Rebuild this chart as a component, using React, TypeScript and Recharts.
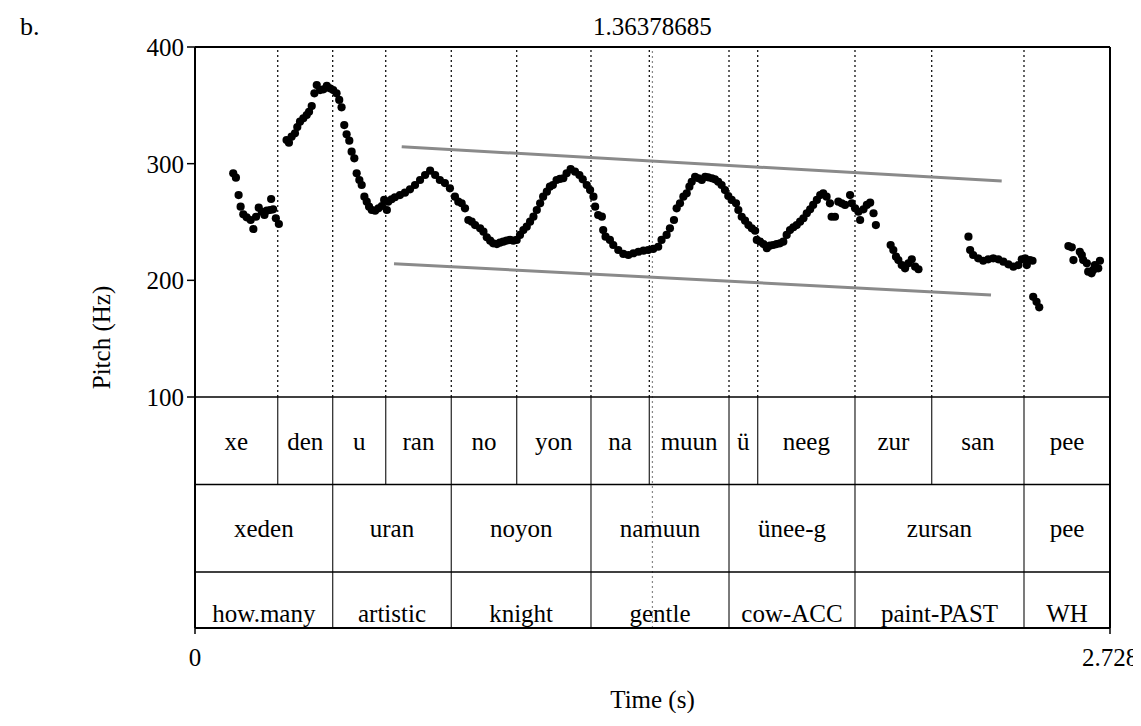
import React from 'react';
import { ScatterChart, Scatter, XAxis, YAxis, ReferenceLine, ReferenceArea } from 'recharts';

// F0 track (time in s, pitch in Hz)
const pitchTime = [
  0.114, 0.122, 0.130, 0.136, 0.144, 0.154, 0.166, 0.174, 0.182, 0.190, 0.199, 0.207, 0.214, 0.224, 0.227, 0.233, 0.241, 0.250,
  0.273, 0.280, 0.288, 0.298, 0.305, 0.313, 0.323, 0.333, 0.340, 0.348, 0.356, 0.363, 0.373, 0.383, 0.393, 0.402, 0.412, 0.422,
  0.430, 0.437, 0.445, 0.452, 0.460, 0.467, 0.475, 0.482, 0.490, 0.497, 0.505, 0.512, 0.519, 0.527, 0.537, 0.547, 0.557, 0.564,
  0.572, 0.576, 0.586, 0.596, 0.611, 0.626, 0.641, 0.656, 0.671, 0.686, 0.701, 0.716, 0.730, 0.745, 0.760, 0.775, 0.785, 0.795,
  0.805, 0.815, 0.825, 0.835, 0.850, 0.860, 0.870, 0.880, 0.889, 0.900, 0.909, 0.919, 0.929, 0.939, 0.949, 0.959, 0.969, 0.979,
  0.989, 0.999, 1.009, 1.019, 1.029, 1.038, 1.049, 1.058, 1.067, 1.078, 1.088, 1.098, 1.108, 1.120, 1.133, 1.146, 1.156, 1.168,
  1.178, 1.188, 1.193, 1.202, 1.213, 1.217, 1.224, 1.237, 1.247, 1.262, 1.277, 1.292, 1.307, 1.322, 1.337, 1.351, 1.366, 1.381,
  1.391, 1.406, 1.416, 1.428, 1.436, 1.446, 1.456, 1.466, 1.474, 1.481, 1.491, 1.501, 1.511, 1.521, 1.530, 1.541, 1.550, 1.560,
  1.570, 1.580, 1.590, 1.600, 1.613, 1.620, 1.630, 1.640, 1.650, 1.660, 1.670, 1.675, 1.685, 1.695, 1.705, 1.714, 1.724, 1.734,
  1.744, 1.754, 1.764, 1.774, 1.784, 1.794, 1.804, 1.814, 1.824, 1.834, 1.843, 1.854, 1.864, 1.873, 1.883, 1.893, 1.898, 1.908,
  1.918, 1.928, 1.938, 1.953, 1.958, 1.968, 1.978, 1.983, 1.993, 2.003, 2.013, 2.023, 2.030,
  2.074, 2.082, 2.090, 2.097, 2.107, 2.117, 2.127, 2.137, 2.147, 2.157,
  2.306, 2.311, 2.320, 2.335, 2.350, 2.365, 2.380, 2.395, 2.410, 2.425, 2.440, 2.455, 2.465, 2.475, 2.480, 2.489, 2.497,
  2.499, 2.509, 2.517,
  2.604, 2.614, 2.619, 2.638, 2.644, 2.648, 2.659, 2.663, 2.673, 2.678, 2.683, 2.693, 2.698,
];

const pitchHz = [
  291.7, 288.0, 273.1, 263.1, 256.6, 254.0, 251.7, 244.0, 254.5, 262.3, 258.8, 256.0, 259.7, 260.3, 269.7, 260.9, 253.2, 248.3,
  320.3, 318.0, 323.1, 326.0, 331.4, 336.0, 338.9, 341.7, 344.5, 349.4, 360.3, 367.4, 363.1, 363.7, 366.6, 364.6, 363.1, 360.3,
  354.6, 348.3, 333.1, 325.2, 319.7, 310.3, 304.6, 291.7, 286.0, 281.7, 271.7, 267.4, 263.1, 260.3, 259.7, 261.7, 263.7, 268.9,
  260.3, 267.4, 269.5, 271.2, 273.1, 275.1, 278.0, 281.7, 286.0, 290.3, 294.0, 290.3, 286.0, 283.4, 278.9, 271.7, 267.4, 266.0,
  261.7, 251.7, 250.3, 247.4, 244.6, 241.7, 236.9, 234.0, 231.7, 231.1, 232.3, 233.1, 234.0, 234.6, 234.0, 234.6, 238.9, 243.1,
  246.0, 250.3, 254.6, 260.3, 266.0, 271.7, 276.0, 280.3, 281.7, 286.0, 286.9, 287.5, 291.7, 295.4, 293.1, 290.3, 286.6, 281.7,
  277.4, 271.7, 263.1, 256.0, 254.6, 243.1, 237.4, 234.6, 230.3, 226.0, 222.6, 221.7, 223.2, 224.5, 225.4, 226.0, 226.9, 228.8,
  234.6, 238.9, 244.6, 251.7, 261.7, 266.0, 271.7, 274.6, 280.3, 284.5, 288.8, 287.5, 286.0, 288.8, 288.3, 287.5, 286.6, 284.5,
  281.7, 277.4, 272.3, 268.9, 266.0, 260.3, 254.5, 251.1, 247.4, 244.6, 242.5, 234.6, 233.1, 231.1, 227.5, 229.7, 230.3, 231.1,
  231.7, 233.1, 238.9, 243.1, 245.5, 247.4, 250.3, 253.2, 257.5, 260.9, 264.6, 268.9, 273.1, 274.6, 271.7, 266.0, 254.5, 254.5,
  267.4, 266.0, 264.6, 273.1, 266.0, 261.7, 258.8, 251.7, 260.9, 264.6, 266.6, 257.5, 247.4,
  230.3, 226.0, 220.3, 217.4, 213.1, 210.3, 214.6, 218.0, 211.7, 209.5,
  237.4, 226.0, 221.7, 218.9, 216.8, 218.0, 218.9, 218.0, 216.0, 213.7, 211.7, 213.1, 218.0, 218.9, 213.1, 217.4, 216.8,
  185.9, 181.6, 176.9,
  229.4, 228.3, 217.4, 224.5, 221.7, 217.4, 214.6, 207.4, 206.0, 208.9, 213.1, 210.3, 216.8,
];

// Syllable tier
const syllableBounds = [0, 0.2466, 0.4105, 0.5686, 0.7641, 0.9591, 1.1806, 1.3545, 1.5921, 1.6776, 1.9677, 2.1964, 2.4716, 2.728];
const syllables = ['xe', 'den', 'u', 'ran', 'no', 'yon', 'na', 'muun', 'ü', 'neeg', 'zur', 'san', 'pee'];

// Word and gloss tiers share their boundaries
const wordBounds = [0, 0.4105, 0.7641, 1.1806, 1.5921, 1.9677, 2.4716, 2.728];
const words = ['xeden', 'uran', 'noyon', 'namuun', 'ünee-g', 'zursan', 'pee'];
const glosses = ['how.many', 'artistic', 'knight', 'gentle', 'cow-ACC', 'paint-PAST', 'WH'];

const cursorTime = 1.36378685;

// Declination lines (time, Hz)
const topline = [
  { x: 0.6163, y: 314.5 },
  { x: 2.4051, y: 285.1 },
];
const baseline = [
  { x: 0.5933, y: 214.3 },
  { x: 2.3732, y: 187.4 },
];

const hzTicks = [100, 200, 300, 400];
const timeTicks = [0, 2.728];

const points = pitchTime.map((t, i) => ({ t, hz: pitchHz[i] }));

// The text-grid tiers hang below the pitch panel on the same vertical scale:
// each tier row is 75 units tall, stacked downward from the 100 Hz floor.
const FLOOR = 100;
const ROW = 75;
const rowTop = (k: number) => FLOOR - ROW * k; // k = 0,1,2
const rowBottom = (k: number) => FLOOR - ROW * (k + 1);
const Y_MIN = -98;

const FONT = "'Liberation Serif', 'Times New Roman', serif";
const FS = 25;

const Dot = (props: any) => <circle cx={props.cx} cy={props.cy} r={4.1} fill="#000" />;

export default function App() {
  const interiorSyl = syllableBounds.slice(1, -1);
  const interiorWord = wordBounds.slice(1, -1);
  const labelStyle = { position: 'center' as const, fontSize: FS, fill: '#000' };
  return (
    <div className="pitch-figure" style={{ position: 'relative', width: 1133, height: 705, fontFamily: FONT }}>
      <style>{`.pitch-figure, .pitch-figure text, .pitch-figure tspan { font-family: ${FONT} !important; }`}</style>
      <span
        style={{
          position: 'absolute',
          left: 12,
          top: 6,
          fontSize: 26,
          lineHeight: '26px',
          color: '#000',
        }}
      >
        b.
      </span>
      <ScatterChart
        width={1133}
        height={705}
        margin={{ top: 39, right: 31, bottom: 0, left: 0 }}
      >
        <XAxis
          type="number"
          dataKey="t"
          domain={[0, 2.728]}
          ticks={timeTicks}
          interval={0}
          tickFormatter={(v: number) => String(v)}
          tickSize={6}
          tickMargin={14}
          height={85}
          axisLine={{ stroke: '#000', strokeWidth: 2 }}
          tickLine={{ stroke: '#000', strokeWidth: 1.5 }}
          tick={{ fontSize: FS, fill: '#000' }}
          label={{ value: 'Time (s)', position: 'insideBottom', offset: 5, fontSize: FS, fill: '#000' }}
        />
        <YAxis
          type="number"
          dataKey="hz"
          domain={[Y_MIN, 400]}
          ticks={hzTicks}
          interval={0}
          width={187}
          tickSize={8}
          tickMargin={3}
          axisLine={{ stroke: '#000', strokeWidth: 2 }}
          tickLine={{ stroke: '#000', strokeWidth: 1.5 }}
          tick={{ fontSize: FS, fill: '#000' }}
          label={{ value: 'Pitch (Hz)', angle: -90, position: 'center', fontSize: FS, fill: '#000' }}
        />

        {/* boundaries projected into the pitch panel */}
        {interiorSyl.map((b) => (
          <ReferenceLine
            key={'pd' + b}
            segment={[{ x: b, y: FLOOR }, { x: b, y: 400 }]}
            stroke="#111"
            strokeWidth={1.3}
            strokeDasharray="2 3"
          />
        ))}

        {/* cursor */}
        <ReferenceLine
          x={cursorTime}
          stroke="#888"
          strokeWidth={1.2}
          strokeDasharray="2 3"
          label={{ value: '1.36378685', position: 'top', offset: 12, fontSize: FS, fill: '#000' }}
        />

        {/* syllable tier boundaries */}
        {interiorSyl.map((b) => (
          <ReferenceLine
            key={'t1' + b}
            segment={[{ x: b, y: rowBottom(0) }, { x: b, y: rowTop(0) }]}
            stroke="#333"
            strokeWidth={1.3}
          />
        ))}
        {/* word and gloss tier boundaries */}
        {interiorWord.map((b) => (
          <ReferenceLine
            key={'t23' + b}
            segment={[{ x: b, y: Y_MIN }, { x: b, y: rowTop(1) }]}
            stroke="#333"
            strokeWidth={1.3}
          />
        ))}

        {/* frame and tier separators */}
        <ReferenceLine y={400} stroke="#000" strokeWidth={2} />
        <ReferenceLine x={2.728} stroke="#000" strokeWidth={2} />
        <ReferenceLine y={FLOOR} stroke="#000" strokeWidth={1.6} />
        <ReferenceLine y={rowTop(1)} stroke="#000" strokeWidth={1.6} />
        <ReferenceLine y={rowTop(2)} stroke="#000" strokeWidth={1.6} />

        {/* tier labels */}
        {syllables.map((s, i) => (
          <ReferenceArea
            key={'s' + i}
            x1={syllableBounds[i]}
            x2={syllableBounds[i + 1]}
            y1={rowBottom(0)}
            y2={rowTop(0)}
            fill="none"
            fillOpacity={0}
            stroke="none"
            ifOverflow="visible"
            label={{ value: s, ...labelStyle }}
          />
        ))}
        {words.map((w, i) => (
          <ReferenceArea
            key={'w' + i}
            x1={wordBounds[i]}
            x2={wordBounds[i + 1]}
            y1={rowBottom(1)}
            y2={rowTop(1)}
            fill="none"
            fillOpacity={0}
            stroke="none"
            ifOverflow="visible"
            label={{ value: w, ...labelStyle }}
          />
        ))}
        {glosses.map((g, i) => (
          <ReferenceArea
            key={'g' + i}
            x1={wordBounds[i]}
            x2={wordBounds[i + 1]}
            y1={rowBottom(2) + 4}
            y2={rowTop(2)}
            fill="none"
            fillOpacity={0}
            stroke="none"
            ifOverflow="visible"
            label={{ value: g, ...labelStyle }}
          />
        ))}

        {/* declination lines */}
        <ReferenceLine segment={topline} stroke="#8a8a8a" strokeWidth={3} />
        <ReferenceLine segment={baseline} stroke="#8a8a8a" strokeWidth={3} />

        <Scatter data={points} shape={Dot} isAnimationActive={false} />
      </ScatterChart>
    </div>
  );
}
